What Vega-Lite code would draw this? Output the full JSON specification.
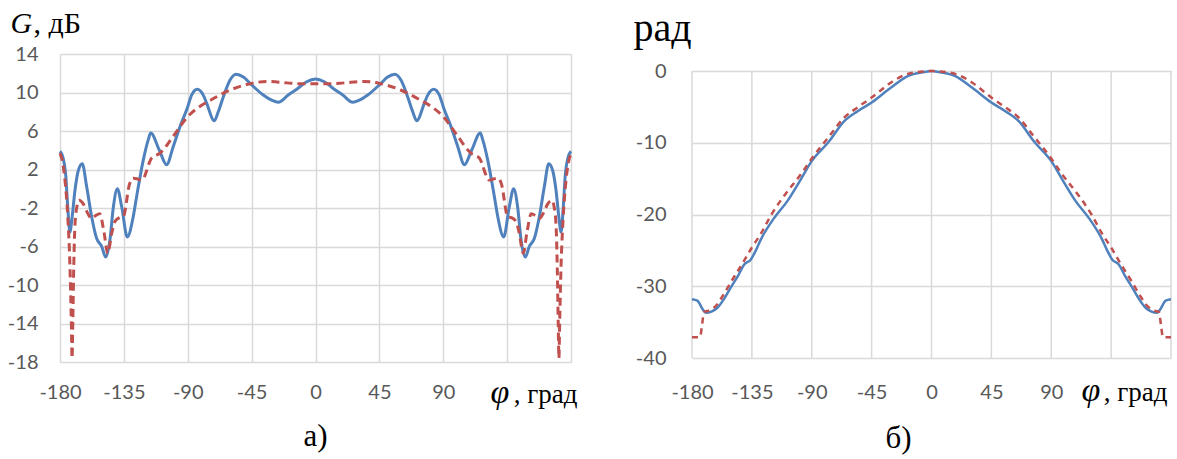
{
  "$schema": "https://vega.github.io/schema/vega-lite/v6.json",
  "background": "white",
  "padding": {"left": 7, "top": 8, "right": 4, "bottom": 4},
  "autosize": {"type": "pad"},
  "config": {
    "view": {"stroke": null},
    "axis": {
      "domain": false, "ticks": false, "tickSize": 0,
      "labelFont": "Lato", "labelFontSize": 20, "labelColor": "#595959",
      "gridColor": "#d9d9d9", "gridWidth": 1.5,
      "titleColor": "black", "titleFont": "Liberation Serif", "titleFontWeight": "normal"
    }
  },
  "datasets": {
    "a_blue": [
      {"phi": -180, "g": 3.9}, {"phi": -178, "g": 3.3}, {"phi": -176, "g": 1.5}, {"phi": -174.5, "g": -2.0},
      {"phi": -173, "g": -4.5}, {"phi": -171.5, "g": -3.0}, {"phi": -169.4, "g": -0.1}, {"phi": -167, "g": 1.95},
      {"phi": -164.3, "g": 2.6}, {"phi": -161.2, "g": 0.2}, {"phi": -157.7, "g": -2.9}, {"phi": -154.2, "g": -5.15},
      {"phi": -150.6, "g": -6.0}, {"phi": -147.8, "g": -7.1}, {"phi": -144.8, "g": -5.3}, {"phi": -142.4, "g": -1.9},
      {"phi": -139.6, "g": 0.0}, {"phi": -136.5, "g": -1.9}, {"phi": -132.6, "g": -5.0}, {"phi": -128.4, "g": -2.9},
      {"phi": -126, "g": -0.8}, {"phi": -121.3, "g": 3.0}, {"phi": -117.8, "g": 5.1}, {"phi": -116.1, "g": 5.8},
      {"phi": -110, "g": 4.0}, {"phi": -104.9, "g": 2.5}, {"phi": -100.2, "g": 4.4}, {"phi": -95.5, "g": 6.45},
      {"phi": -90.3, "g": 8.4}, {"phi": -87.2, "g": 9.75}, {"phi": -83.3, "g": 10.33}, {"phi": -79, "g": 9.7},
      {"phi": -76.7, "g": 8.9}, {"phi": -71.3, "g": 7.07}, {"phi": -68.5, "g": 8.0}, {"phi": -64.9, "g": 9.57},
      {"phi": -60.2, "g": 11.3}, {"phi": -56, "g": 11.9}, {"phi": -50.8, "g": 11.6}, {"phi": -46.1, "g": 10.95},
      {"phi": -36.8, "g": 9.74}, {"phi": -30.9, "g": 9.2}, {"phi": -26.2, "g": 8.98}, {"phi": -19.2, "g": 9.74},
      {"phi": -13.2, "g": 10.33}, {"phi": -6.2, "g": 11.12}, {"phi": 0, "g": 11.4},
      {"phi": 6.2, "g": 11.12}, {"phi": 13.2, "g": 10.33}, {"phi": 19.2, "g": 9.74}, {"phi": 26.2, "g": 8.98},
      {"phi": 30.9, "g": 9.2}, {"phi": 36.8, "g": 9.74}, {"phi": 46.1, "g": 10.95}, {"phi": 50.8, "g": 11.6},
      {"phi": 56, "g": 11.9}, {"phi": 60.2, "g": 11.3}, {"phi": 64.9, "g": 9.57}, {"phi": 68.5, "g": 8.0},
      {"phi": 71.3, "g": 7.07}, {"phi": 76.7, "g": 8.9}, {"phi": 79, "g": 9.7}, {"phi": 83.3, "g": 10.33},
      {"phi": 87.2, "g": 9.75}, {"phi": 90.3, "g": 8.4}, {"phi": 95.5, "g": 6.45}, {"phi": 100.2, "g": 4.4},
      {"phi": 104.9, "g": 2.5}, {"phi": 110, "g": 4.0}, {"phi": 116.1, "g": 5.8}, {"phi": 117.8, "g": 5.1},
      {"phi": 121.3, "g": 3.0}, {"phi": 126, "g": -0.8}, {"phi": 128.4, "g": -2.9}, {"phi": 132.6, "g": -5.0},
      {"phi": 136.5, "g": -1.9}, {"phi": 139.6, "g": 0.0}, {"phi": 142.4, "g": -1.9}, {"phi": 144.8, "g": -5.3},
      {"phi": 147.8, "g": -7.1}, {"phi": 150.6, "g": -6.0}, {"phi": 154.2, "g": -5.15}, {"phi": 157.7, "g": -2.9},
      {"phi": 161.2, "g": 0.2}, {"phi": 164.3, "g": 2.6}, {"phi": 167, "g": 1.95}, {"phi": 169.4, "g": -0.1},
      {"phi": 171.5, "g": -3.0}, {"phi": 173, "g": -4.5}, {"phi": 174.5, "g": -2.0}, {"phi": 176, "g": 1.5},
      {"phi": 178, "g": 3.3}, {"phi": 180, "g": 3.9}
    ],
    "a_red": [
      {"phi": -180, "g": 3.7}, {"phi": -178, "g": 2.6}, {"phi": -176.5, "g": 0.9}, {"phi": -174.5, "g": -3.0},
      {"phi": -173, "g": -8}, {"phi": -172, "g": -14}, {"phi": -171.5, "g": -17.6}, {"phi": -171, "g": -14},
      {"phi": -170.3, "g": -8}, {"phi": -169.4, "g": -3.6}, {"phi": -168, "g": -1.8}, {"phi": -166.6, "g": -1.2},
      {"phi": -163.5, "g": -1.6}, {"phi": -161, "g": -2.4}, {"phi": -157.7, "g": -3.1}, {"phi": -155, "g": -2.8},
      {"phi": -152, "g": -2.6}, {"phi": -149, "g": -4.5}, {"phi": -146.4, "g": -6.7}, {"phi": -143.5, "g": -4.6},
      {"phi": -141.3, "g": -3.4}, {"phi": -138, "g": -3.0}, {"phi": -135.4, "g": -2.9}, {"phi": -131, "g": 0.5},
      {"phi": -128.4, "g": 1.1}, {"phi": -125, "g": 1.0}, {"phi": -122.4, "g": 0.9}, {"phi": -115.4, "g": 3.2},
      {"phi": -109.5, "g": 3.7}, {"phi": -100, "g": 5.5}, {"phi": -90, "g": 7.5}, {"phi": -82, "g": 8.5},
      {"phi": -74, "g": 9.2}, {"phi": -60, "g": 10.26}, {"phi": -45, "g": 10.95}, {"phi": -34, "g": 11.15},
      {"phi": -20, "g": 11.0}, {"phi": -10, "g": 10.9}, {"phi": 0, "g": 10.9},
      {"phi": 10, "g": 10.9}, {"phi": 20, "g": 11.0}, {"phi": 34, "g": 11.15}, {"phi": 45, "g": 10.95},
      {"phi": 60, "g": 10.26}, {"phi": 74, "g": 9.2}, {"phi": 82, "g": 8.5}, {"phi": 90, "g": 7.5},
      {"phi": 100, "g": 5.5}, {"phi": 109.5, "g": 3.7}, {"phi": 115.4, "g": 3.2}, {"phi": 122.4, "g": 0.9},
      {"phi": 125, "g": 1.0}, {"phi": 128.4, "g": 1.1}, {"phi": 131, "g": 0.5}, {"phi": 135.4, "g": -2.9},
      {"phi": 138, "g": -3.0}, {"phi": 141.3, "g": -3.4}, {"phi": 143.5, "g": -4.6}, {"phi": 146.4, "g": -6.7},
      {"phi": 149, "g": -4.5}, {"phi": 152, "g": -2.6}, {"phi": 155, "g": -2.8}, {"phi": 157.7, "g": -3.1},
      {"phi": 161, "g": -2.4}, {"phi": 163.5, "g": -1.6}, {"phi": 166.6, "g": -1.2}, {"phi": 168, "g": -1.8},
      {"phi": 169.4, "g": -3.6}, {"phi": 170.3, "g": -8}, {"phi": 171, "g": -14}, {"phi": 171.5, "g": -17.6},
      {"phi": 172, "g": -14}, {"phi": 173, "g": -8}, {"phi": 174.5, "g": -3.0}, {"phi": 176.5, "g": 0.9},
      {"phi": 178, "g": 2.6}, {"phi": 180, "g": 3.7}
    ],
    "b_grid": [
      {"phi": -180}, {"phi": -135}, {"phi": -90}, {"phi": -45}, {"phi": 0},
      {"phi": 45}, {"phi": 90}, {"phi": 135}, {"phi": 180}
    ],
    "b_blue": [
      {"phi": -180, "r": -31.8}, {"phi": -176, "r": -32.0}, {"phi": -172, "r": -33.2}, {"phi": -169.7, "r": -33.7},
      {"phi": -165, "r": -33.5}, {"phi": -160.9, "r": -33.0}, {"phi": -156, "r": -31.8}, {"phi": -150.9, "r": -30.2},
      {"phi": -145, "r": -28.4}, {"phi": -140.9, "r": -27.0}, {"phi": -135.9, "r": -26.3}, {"phi": -132, "r": -25.0},
      {"phi": -128.3, "r": -23.5}, {"phi": -118.3, "r": -20.5}, {"phi": -108.2, "r": -18.1}, {"phi": -98.2, "r": -15.1},
      {"phi": -90.2, "r": -12.6}, {"phi": -76.9, "r": -9.8}, {"phi": -65.6, "r": -7.0}, {"phi": -55.5, "r": -5.6},
      {"phi": -45, "r": -4.4}, {"phi": -30.4, "r": -2.3}, {"phi": -17.9, "r": -0.7}, {"phi": -5.5, "r": -0.14},
      {"phi": 0, "r": 0},
      {"phi": 5.5, "r": -0.14}, {"phi": 17.9, "r": -0.7}, {"phi": 30.4, "r": -2.3}, {"phi": 45, "r": -4.4},
      {"phi": 55.5, "r": -5.6}, {"phi": 65.6, "r": -7.0}, {"phi": 76.9, "r": -9.8}, {"phi": 90.2, "r": -12.6},
      {"phi": 98.2, "r": -15.1}, {"phi": 108.2, "r": -18.1}, {"phi": 118.3, "r": -20.5}, {"phi": 128.3, "r": -23.5},
      {"phi": 132, "r": -25.0}, {"phi": 135.9, "r": -26.3}, {"phi": 140.9, "r": -27.0}, {"phi": 145, "r": -28.4},
      {"phi": 150.9, "r": -30.2}, {"phi": 156, "r": -31.8}, {"phi": 160.9, "r": -33.0}, {"phi": 165, "r": -33.5},
      {"phi": 169.7, "r": -33.7}, {"phi": 172, "r": -33.2}, {"phi": 176, "r": -32.0}, {"phi": 180, "r": -31.8}
    ],
    "b_red": [
      {"phi": -180, "r": -37.1}, {"phi": -174, "r": -37.1}, {"phi": -172.5, "r": -35.5}, {"phi": -171, "r": -33.6},
      {"phi": -166, "r": -33.3}, {"phi": -161, "r": -32.5}, {"phi": -156.4, "r": -31.2}, {"phi": -150, "r": -29.2},
      {"phi": -141, "r": -26.5}, {"phi": -135, "r": -24.6}, {"phi": -128, "r": -22.6}, {"phi": -120.3, "r": -20.0},
      {"phi": -110, "r": -17.2}, {"phi": -98.2, "r": -14.4}, {"phi": -90, "r": -12.2}, {"phi": -76.9, "r": -9.1},
      {"phi": -65.6, "r": -6.5}, {"phi": -55, "r": -5.0}, {"phi": -45, "r": -3.7}, {"phi": -30.4, "r": -1.6},
      {"phi": -17.9, "r": -0.4}, {"phi": -5, "r": -0.05}, {"phi": 0, "r": 0},
      {"phi": 5, "r": -0.05}, {"phi": 17.9, "r": -0.4}, {"phi": 30.4, "r": -1.6}, {"phi": 45, "r": -3.7},
      {"phi": 55, "r": -5.0}, {"phi": 65.6, "r": -6.5}, {"phi": 76.9, "r": -9.1}, {"phi": 90, "r": -12.2},
      {"phi": 98.2, "r": -14.4}, {"phi": 110, "r": -17.2}, {"phi": 120.3, "r": -20.0}, {"phi": 128, "r": -22.6},
      {"phi": 135, "r": -24.6}, {"phi": 141, "r": -26.5}, {"phi": 150, "r": -29.2}, {"phi": 156.4, "r": -31.2},
      {"phi": 161, "r": -32.5}, {"phi": 166, "r": -33.3}, {"phi": 171, "r": -33.6}, {"phi": 172.5, "r": -35.5},
      {"phi": 174, "r": -37.1}, {"phi": 180, "r": -37.1}
    ]
  },
  "hconcat": [
    {
      "width": 511,
      "height": 308,
      "title": {"text": "а)", "orient": "bottom", "anchor": "middle", "font": "Liberation Serif", "fontSize": 31, "fontWeight": "normal", "color": "black", "baseline": "alphabetic", "offset": 37},
      "layer": [
        {
          "data": {"name": "a_blue"},
          "mark": {"type": "line", "color": "#4f81bd", "strokeWidth": 3, "interpolate": "monotone"},
          "encoding": {
            "x": {"field": "phi", "type": "quantitative",
              "scale": {"domain": [-180, 180], "nice": false, "zero": false},
              "axis": {"orient": "bottom", "values": [-180, -135, -90, -45, 0, 45, 90, 135, 180],
                "labelExpr": "datum.value > 100 ? '' : replace(datum.label, '−', '-')", "labelFlush": false, "labelOverlap": false,
                "labelPadding": 20, "grid": true,
                "title": "φ", "titleFontStyle": "italic", "titleFontSize": 34, "titleX": 430, "titleY": 40,
                "titleAlign": "left", "titleBaseline": "alphabetic", "titleAngle": 0}},
            "y": {"field": "g", "type": "quantitative",
              "scale": {"domain": [-18, 14], "nice": false, "zero": false},
              "axis": {"orient": "left", "values": [14, 10, 6, 2, -2, -6, -10, -14, -18],
                "labelExpr": "replace(datum.label, '−', '-')",
                "labelPadding": 22, "grid": true, "labelOverlap": false,
                "title": "G", "titleFontStyle": "italic", "titleFontSize": 30, "titleX": -50, "titleY": -22,
                "titleAlign": "left", "titleBaseline": "alphabetic", "titleAngle": 0}}
          }
        },
        {
          "data": {"name": "a_red"},
          "mark": {"type": "line", "color": "#c0504d", "strokeWidth": 3, "strokeDash": [8, 5], "interpolate": "monotone"},
          "encoding": {
            "x": {"field": "phi", "type": "quantitative",
              "scale": {"domain": [-180, 180], "nice": false, "zero": false},
              "axis": {"orient": "bottom", "labels": false, "grid": false,
                "title": ", град", "titleFontSize": 27, "titleX": 517, "titleY": 40,
                "titleAlign": "right", "titleBaseline": "alphabetic", "titleAngle": 0}},
            "y": {"field": "g", "type": "quantitative",
              "scale": {"domain": [-18, 14], "nice": false, "zero": false},
              "axis": {"orient": "left", "labels": false, "grid": false,
                "title": ", дБ", "titleFontSize": 30, "titleX": -27, "titleY": -22,
                "titleAlign": "left", "titleBaseline": "alphabetic", "titleAngle": 0}}
          }
        }
      ],
      "resolve": {"scale": {"x": "independent", "y": "independent"}, "axis": {"x": "independent", "y": "independent"}}
    },
    {
      "width": 479,
      "height": 304,
      "title": {"text": "б)", "orient": "bottom", "anchor": "middle", "dx": -33, "font": "Liberation Serif", "fontSize": 31, "fontWeight": "normal", "color": "black", "baseline": "alphabetic", "offset": 41},
      "layer": [
        {
          "data": {"name": "b_grid"},
          "mark": {"type": "rule", "color": "#d9d9d9", "strokeWidth": 1.5},
          "encoding": {
            "x": {"field": "phi", "type": "quantitative",
              "scale": {"domain": [-180, 180], "nice": false, "zero": false}, "axis": null},
            "y": {"datum": -40, "type": "quantitative",
              "scale": {"domain": [-40, 2.37], "nice": false, "zero": false}, "axis": null},
            "y2": {"datum": 0}
          }
        },
        {
          "data": {"name": "b_blue"},
          "mark": {"type": "line", "color": "#4f81bd", "strokeWidth": 2.5, "interpolate": "monotone"},
          "encoding": {
            "x": {"field": "phi", "type": "quantitative",
              "scale": {"domain": [-180, 180], "nice": false, "zero": false},
              "axis": {"orient": "bottom", "values": [-180, -135, -90, -45, 0, 45, 90, 135, 180],
                "labelExpr": "datum.value > 100 ? '' : replace(datum.label, '−', '-')", "labelFlush": false, "labelOverlap": false,
                "labelPadding": 24, "grid": false,
                "title": "φ", "titleFontStyle": "italic", "titleFontSize": 34, "titleX": 389, "titleY": 42,
                "titleAlign": "left", "titleBaseline": "alphabetic", "titleAngle": 0}},
            "y": {"field": "r", "type": "quantitative",
              "scale": {"domain": [-40, 2.37], "nice": false, "zero": false},
              "axis": {"orient": "left", "values": [0, -10, -20, -30, -40],
                "labelExpr": "replace(datum.label, '−', '-')",
                "labelPadding": 26, "grid": true, "labelOverlap": false,
                "title": "рад", "titleFontSize": 40, "titleX": -59, "titleY": -14,
                "titleAlign": "left", "titleBaseline": "alphabetic", "titleAngle": 0}}
          }
        },
        {
          "data": {"name": "b_red"},
          "mark": {"type": "line", "color": "#c0504d", "strokeWidth": 2.5, "strokeDash": [6, 5], "interpolate": "monotone"},
          "encoding": {
            "x": {"field": "phi", "type": "quantitative",
              "scale": {"domain": [-180, 180], "nice": false, "zero": false},
              "axis": {"orient": "bottom", "labels": false, "grid": false,
                "title": ", град", "titleFontSize": 27, "titleX": 475, "titleY": 42,
                "titleAlign": "right", "titleBaseline": "alphabetic", "titleAngle": 0}},
            "y": {"field": "r", "type": "quantitative",
              "scale": {"domain": [-40, 2.37], "nice": false, "zero": false},
              "axis": null}
          }
        }
      ],
      "resolve": {"scale": {"x": "independent", "y": "independent"}, "axis": {"x": "independent", "y": "independent"}}
    }
  ],
  "spacing": 56
}
